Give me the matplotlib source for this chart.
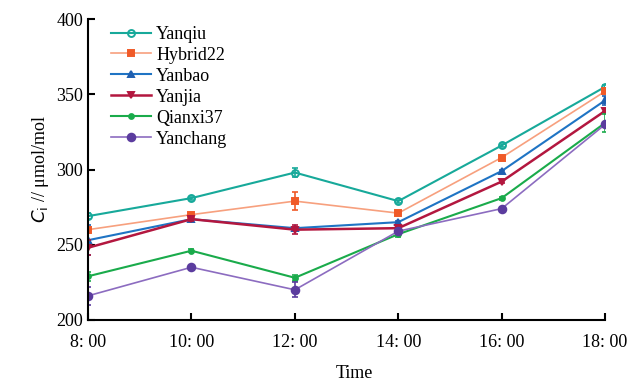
import matplotlib.pyplot as plt

# Data
times = [8, 10, 12, 14, 16, 18]
time_labels = ['8: 00', '10: 00', '12: 00', '14: 00', '16: 00', '18: 00']

yanqiu = [269, 281, 298, 279, 316, 355]
hybrid22 = [260, 270, 279, 271, 308, 352]
yanbao = [253, 267, 261, 265, 299, 346]
yanjia = [248, 267, 260, 261, 292, 339]
qianxi37 = [229, 246, 228, 257, 281, 331]
yanchang = [216, 235, 220, 259, 274, 330]

yanqiu_err = [2, 1, 3, 1, 1, 1]
hybrid22_err = [1, 1, 6, 1, 1, 1]
yanbao_err = [10, 1, 1, 1, 1, 3]
yanjia_err = [5, 1, 3, 1, 1, 1]
qianxi37_err = [3, 1, 2, 2, 1, 6]
yanchang_err = [6, 1, 5, 1, 1, 1]

plt.rcParams['font.family'] = ['Liberation Serif', 'DejaVu Serif']

fig = plt.figure(figsize=(6.29, 3.84), dpi=100)
ax = fig.add_axes([0.14, 0.167, 0.822, 0.783])

series = [
    ('Yanqiu', yanqiu, yanqiu_err, '#17a99a', '#17a99a', 'o', 'none', 1.5, 5),
    ('Hybrid22', hybrid22, hybrid22_err, '#f7a07e', '#f05a28', 's', None, 1.2, 4.5),
    ('Yanbao', yanbao, yanbao_err, '#1f74c4', '#1f5fb0', '^', None, 1.5, 4.5),
    ('Yanjia', yanjia, yanjia_err, '#b3173f', '#b3173f', 'v', None, 1.8, 5),
    ('Qianxi37', qianxi37, qianxi37_err, '#1aab4b', '#1aab4b', 'o', None, 1.5, 3.5),
    ('Yanchang', yanchang, yanchang_err, '#8c6cc0', '#5b3c9e', 'o', None, 1.2, 5.5),
]

for name, vals, err, lc, mc, mk, mfc, lw, ms in series:
    ax.errorbar(times, vals, yerr=err, fmt='none', ecolor=mc, elinewidth=1.2,
                capsize=2.5, capthick=1.2)
    ax.plot(times, vals, color=lc, lw=lw, marker=mk, markersize=ms,
            markerfacecolor=mc if mfc is None else 'none',
            markeredgecolor=mc, markeredgewidth=1.4, label=name)

ax.set_xlim(8, 18)
ax.set_ylim(200, 400)
ax.set_xticks(times)
ax.set_xticklabels(time_labels)
ax.set_yticks([200, 250, 300, 350, 400])
ax.tick_params(direction='in', length=5, width=1.5, labelsize=13)
ax.tick_params(axis='x', pad=10)
for s in ['top', 'right']:
    ax.spines[s].set_visible(False)
for s in ['left', 'bottom']:
    ax.spines[s].set_linewidth(1.5)

ax.set_xlabel('Time', fontsize=13)
ax.xaxis.set_label_coords(0.516, -0.15)
ax.set_ylabel(r'$C_{\rm i}$ // μmol/mol', fontsize=13)

ax.legend(loc='upper left', frameon=False, fontsize=13, handlelength=2.2,
          handletextpad=0.3, labelspacing=0.22, borderaxespad=0.3,
          bbox_to_anchor=(0.02, 1.02))

fig.savefig('out.png', dpi=100)
